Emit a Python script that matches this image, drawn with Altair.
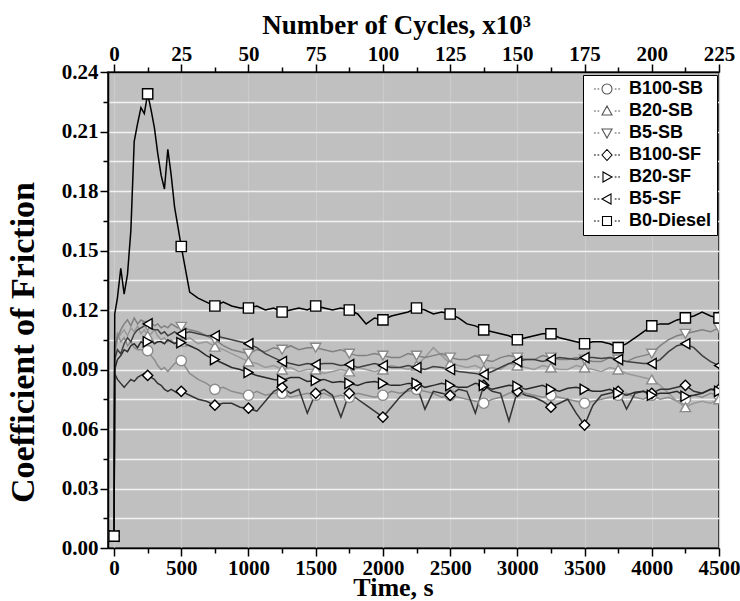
import altair as alt
import pandas as pd

# ---------------- data ----------------
T_EARLY = [0, 5, 25, 50, 75, 100, 125, 150, 175, 200, 225, 250, 275, 300, 325, 350, 375, 400, 425, 450, 475]
T_LATE = [500, 562.5, 625, 687.5, 750, 812.5, 875, 937.5,
          1000, 1062.5, 1125, 1187.5, 1250, 1312.5, 1375, 1437.5,
          1500, 1562.5, 1625, 1687.5, 1750, 1812.5, 1875, 1937.5,
          2000, 2062.5, 2125, 2187.5, 2250, 2312.5, 2375, 2437.5,
          2500, 2562.5, 2625, 2687.5, 2750, 2812.5, 2875, 2937.5,
          3000, 3062.5, 3125, 3187.5, 3250, 3312.5, 3375, 3437.5,
          3500, 3562.5, 3625, 3687.5, 3750, 3812.5, 3875, 3937.5,
          4000, 4062.5, 4125, 4187.5, 4250, 4312.5, 4375, 4437.5,
          4500]
T = T_EARLY + T_LATE

B100_SB = [0.006, 0.100, 0.108, 0.104, 0.106, 0.102, 0.104, 0.101, 0.100, 0.100, 0.099, 0.0995, 0.097, 0.095, 0.092, 0.090, 0.091, 0.089, 0.091, 0.093, 0.094,
           0.0945, 0.088, 0.085, 0.083, 0.080, 0.081, 0.079, 0.078,
           0.077, 0.079, 0.077, 0.078, 0.078, 0.076, 0.077, 0.078,
           0.077, 0.078, 0.076, 0.077, 0.076, 0.078, 0.077, 0.076,
           0.077, 0.079, 0.078, 0.079, 0.080, 0.079, 0.078, 0.076,
           0.077, 0.076, 0.075, 0.074, 0.073, 0.075, 0.076, 0.078,
           0.079, 0.078, 0.077, 0.076, 0.077, 0.076, 0.075, 0.074,
           0.073, 0.074, 0.075, 0.076, 0.077, 0.078, 0.076, 0.075,
           0.077, 0.075, 0.076, 0.074, 0.075, 0.077, 0.076, 0.078,
           0.077]
B20_SB = [0.006, 0.098, 0.105, 0.108, 0.110, 0.107, 0.111, 0.109, 0.112, 0.108, 0.110, 0.107, 0.108, 0.110, 0.107, 0.105, 0.106, 0.104, 0.105, 0.103, 0.104,
          0.104, 0.106, 0.103, 0.104, 0.1015, 0.100, 0.098, 0.096,
          0.094, 0.093, 0.091, 0.092, 0.090, 0.091, 0.089, 0.090,
          0.090, 0.088, 0.089, 0.090, 0.089, 0.091, 0.090, 0.089,
          0.090, 0.092, 0.091, 0.090, 0.092, 0.096, 0.101, 0.097,
          0.093, 0.092, 0.091, 0.092, 0.090, 0.091, 0.090, 0.093,
          0.092, 0.091, 0.090, 0.092, 0.091, 0.090, 0.090, 0.092,
          0.091, 0.090, 0.089, 0.091, 0.090, 0.088, 0.087, 0.086,
          0.085, 0.082, 0.078, 0.074, 0.071, 0.073, 0.074, 0.073,
          0.075]
B5_SB = [0.006, 0.100, 0.106, 0.110, 0.113, 0.115, 0.112, 0.116, 0.113, 0.115, 0.114, 0.112, 0.114, 0.112, 0.113, 0.111, 0.112, 0.111, 0.113, 0.112, 0.111,
         0.1115, 0.110, 0.109, 0.107, 0.105, 0.102, 0.100, 0.099,
         0.098, 0.100, 0.099, 0.101, 0.100, 0.102, 0.100, 0.101,
         0.101, 0.100, 0.099, 0.100, 0.098, 0.097, 0.097, 0.098,
         0.097, 0.096, 0.096, 0.098, 0.097, 0.096, 0.097, 0.098,
         0.096, 0.095, 0.095, 0.097, 0.095, 0.094, 0.096, 0.097,
         0.096, 0.095, 0.095, 0.097, 0.096, 0.095, 0.095, 0.096,
         0.095, 0.094, 0.094, 0.096, 0.095, 0.094, 0.096, 0.097,
         0.098, 0.102, 0.105, 0.107, 0.108, 0.109, 0.110, 0.109,
         0.111]
B100_SF = [0.006, 0.088, 0.085, 0.083, 0.081, 0.083, 0.085, 0.084, 0.086, 0.087, 0.088, 0.087, 0.086, 0.085, 0.083, 0.082, 0.080, 0.079, 0.080, 0.079, 0.078,
           0.079, 0.077, 0.075, 0.074, 0.072, 0.073, 0.073, 0.071,
           0.0705, 0.069, 0.074, 0.079, 0.081, 0.078, 0.080, 0.068,
           0.078, 0.080, 0.077, 0.066, 0.078, 0.075, 0.072, 0.069,
           0.066, 0.071, 0.076, 0.080, 0.082, 0.070, 0.079, 0.078,
           0.077, 0.080, 0.079, 0.068, 0.082, 0.079, 0.078, 0.064,
           0.079, 0.077, 0.076, 0.074, 0.071, 0.073, 0.075, 0.068,
           0.062, 0.072, 0.077, 0.078, 0.079, 0.070, 0.078, 0.079,
           0.078, 0.080, 0.080, 0.081, 0.082, 0.079, 0.078, 0.080,
           0.080]
B20_SF = [0.006, 0.090, 0.095, 0.097, 0.100, 0.099, 0.102, 0.103, 0.101, 0.104, 0.103, 0.104, 0.105, 0.103, 0.104, 0.104, 0.103, 0.105, 0.104, 0.103, 0.104,
          0.1035, 0.102, 0.100, 0.097, 0.095, 0.093, 0.091, 0.090,
          0.0885, 0.087, 0.086, 0.085, 0.0845, 0.086, 0.086, 0.084,
          0.0845, 0.085, 0.0835, 0.084, 0.083, 0.082, 0.0835, 0.084,
          0.083, 0.082, 0.082, 0.083, 0.083, 0.081, 0.082, 0.083,
          0.082, 0.081, 0.081, 0.083, 0.082, 0.080, 0.081, 0.082,
          0.0815, 0.080, 0.081, 0.082, 0.080, 0.079, 0.0805, 0.081,
          0.080, 0.079, 0.079, 0.080, 0.078, 0.077, 0.0785, 0.079,
          0.077, 0.078, 0.078, 0.079, 0.0765, 0.077, 0.078, 0.080,
          0.079]
B5_SF = [0.006, 0.095, 0.100, 0.098, 0.103, 0.106, 0.104, 0.108, 0.110, 0.111, 0.112, 0.113, 0.111, 0.110, 0.110, 0.108, 0.109, 0.107, 0.108, 0.109, 0.108,
         0.108, 0.109, 0.108, 0.107, 0.107, 0.106, 0.105, 0.104,
         0.103, 0.101, 0.098, 0.096, 0.094, 0.093, 0.092, 0.093,
         0.0925, 0.093, 0.093, 0.092, 0.0925, 0.091, 0.092, 0.093,
         0.092, 0.091, 0.091, 0.092, 0.091, 0.090, 0.0915, 0.091,
         0.090, 0.089, 0.0885, 0.088, 0.0875, 0.089, 0.091, 0.093,
         0.094, 0.095, 0.095, 0.094, 0.095, 0.096, 0.0955, 0.095,
         0.096, 0.096, 0.0955, 0.096, 0.095, 0.094, 0.0935, 0.093,
         0.093, 0.095, 0.099, 0.102, 0.103, 0.101, 0.097, 0.094,
         0.092]
B0_DIESEL = [0.006, 0.118, 0.126, 0.141, 0.128, 0.138, 0.160, 0.205, 0.214, 0.222, 0.219, 0.229, 0.221, 0.212, 0.199, 0.188, 0.181, 0.201, 0.188, 0.172, 0.162,
             0.152, 0.129, 0.126, 0.124, 0.122, 0.124, 0.122, 0.121,
             0.121, 0.122, 0.120, 0.121, 0.119, 0.120, 0.121, 0.120,
             0.122, 0.121, 0.120, 0.121, 0.120, 0.118, 0.113, 0.116,
             0.115, 0.117, 0.118, 0.119, 0.121, 0.120, 0.118, 0.119,
             0.118, 0.116, 0.113, 0.112, 0.110, 0.109, 0.108, 0.107,
             0.105, 0.106, 0.107, 0.108, 0.108, 0.106, 0.105, 0.104,
             0.103, 0.104, 0.104, 0.103, 0.101, 0.103, 0.106, 0.109,
             0.112, 0.113, 0.113, 0.115, 0.116, 0.117, 0.119, 0.117,
             0.116]

SERIES = ["B100-SB", "B20-SB", "B5-SB", "B100-SF", "B20-SF", "B5-SF", "B0-Diesel"]
VALUES = [B100_SB, B20_SB, B5_SB, B100_SF, B20_SF, B5_SF, B0_DIESEL]

X_TICKS = [0, 250, 500, 750, 1000, 1250, 1500, 1750, 2000, 2250, 2500, 2750, 3000, 3250, 3500, 3750, 4000, 4250, 4500]
Y_TICKS = [0, 0.015, 0.03, 0.045, 0.06, 0.075, 0.09, 0.105, 0.12, 0.135, 0.15, 0.165, 0.18, 0.195, 0.21, 0.225, 0.24]

# ---------------- styles ----------------
LINE_COLORS = ["#8c8c8c", "#999999", "#808080", "#333333", "#2a2a2a", "#404040", "#000000"]
LINE_WIDTHS = [1.5, 1.5, 1.5, 1.7, 1.7, 1.7, 1.6]
MARK_STROKES = ["#8a8a8a", "#8a8a8a", "#8a8a8a", "#000000", "#000000", "#000000", "#000000"]
SHAPES = ["circle", "triangle-up", "triangle-down", "diamond", "triangle-right", "triangle-left", "square"]
DOTS = " M-2.6,0h0.35 M-1.9,0h0.35 M1.55,0h0.35 M2.25,0h0.35"
LEGEND_PATHS = [
    "M1,0A1,1 0 1,1 -1,0A1,1 0 1,1 1,0Z" + DOTS,
    "M0,-1L1,0.8L-1,0.8Z" + DOTS,
    "M0,1L1,-0.8L-1,-0.8Z" + DOTS,
    "M0,-1.1L1,0L0,1.1L-1,0Z" + DOTS,
    "M1,0L-0.8,-1L-0.8,1Z" + DOTS,
    "M-1,0L0.8,-1L0.8,1Z" + DOTS,
    "M-0.9,-0.9H0.9V0.9H-0.9Z" + DOTS,
]
LEGEND_STROKES = ["#555555", "#555555", "#555555", "#000000", "#000000", "#000000", "#000000"]

rows = []
for name, vals in zip(SERIES, VALUES):
    for t, v in zip(T, vals):
        rows.append({"t": t, "v": v, "series": name})
df = pd.DataFrame(rows)
legend_df = pd.DataFrame({"name": SERIES})

SERIF = "Liberation Serif"
SANS = "Liberation Sans"

xscale = alt.Scale(domain=[-45, 4500], nice=False, zero=False)
yscale = alt.Scale(domain=[0, 0.24], nice=False, zero=False)

x_major = "datum.value % 500 === 0"
y_major = "abs(round(datum.value / 0.03) * 0.03 - datum.value) < 0.000001"

bottom_axis = alt.Axis(
    orient="bottom", values=X_TICKS, title="Time, s",
    labelExpr=f"{x_major} ? format(datum.value, 'd') : ''",
    labelFont=SERIF, labelFontWeight="bold", labelFontSize=21, labelColor="black",
    labelOverlap=False, labelPadding=1, labelFlush=False,
    tickSize={"condition": {"test": x_major, "value": 8}, "value": 5},
    tickColor="black", tickWidth=1.5,
    domainColor="black", domainWidth=1.5,
    grid=True, gridColor="#cbcbcb", gridWidth=1.2,
    gridOpacity={"condition": {"test": x_major, "value": 1}, "value": 0},
    titleFont=SERIF, titleFontWeight="bold", titleFontSize=26, titleColor="black",
    titlePadding=-4, titleX=285,
)
top_axis = alt.Axis(
    orient="top", values=X_TICKS, title="Number of Cycles, x10³",
    labelExpr=f"{x_major} ? format(datum.value / 20, 'd') : ''",
    labelFont=SERIF, labelFontWeight="bold", labelFontSize=21, labelColor="black",
    labelOverlap=False, labelPadding=0, labelFlush=False,
    tickSize={"condition": {"test": x_major, "value": 8}, "value": 5},
    tickColor="black", tickWidth=1.5,
    domainColor="black", domainWidth=1.5, grid=False,
    titleFont=SERIF, titleFontWeight="bold", titleFontSize=27, titleColor="black",
    titlePadding=4, titleX=288,
)
left_axis = alt.Axis(
    orient="left", values=Y_TICKS, title="Coefficient of Friction",
    labelExpr=f"{y_major} ? format(datum.value, '.2f') : ''",
    labelFont=SERIF, labelFontWeight="bold", labelFontSize=21, labelColor="black",
    labelOverlap=False, labelPadding=2, labelFlush=False,
    tickSize={"condition": {"test": y_major, "value": 8}, "value": 5},
    tickColor="black", tickWidth=1.5,
    domainColor="black", domainWidth=1.5,
    grid=True, gridColor="#f2f2f2", gridWidth=1.6,
    titleFont=SERIF, titleFontWeight="bold", titleFontSize=34, titleColor="black",
    titleX=-68, titleY=270, titleBaseline="bottom", titleAngle=270,
)

lines = alt.Chart(df).mark_line(clip=True).encode(
    x=alt.X("t:Q", scale=xscale, axis=bottom_axis),
    y=alt.Y("v:Q", scale=yscale, axis=left_axis),
    stroke=alt.Stroke("series:N", scale=alt.Scale(domain=SERIES, range=LINE_COLORS), legend=None),
    strokeWidth=alt.StrokeWidth("series:N", scale=alt.Scale(domain=SERIES, range=LINE_WIDTHS), legend=None),
    order=alt.Order("t:Q"),
)

markers = alt.Chart(df).transform_filter("datum.t % 250 === 0").mark_point(
    fill="white", fillOpacity=1, opacity=1, strokeWidth=1.4, size=105, clip=True
).encode(
    x=alt.X("t:Q", scale=xscale, axis=None),
    y=alt.Y("v:Q", scale=yscale, axis=None),
    shape=alt.Shape("series:N", scale=alt.Scale(domain=SERIES, range=SHAPES), legend=None),
    stroke=alt.Stroke("series:N", scale=alt.Scale(domain=SERIES, range=MARK_STROKES), legend=None),
)

top = alt.Chart(df).mark_point(opacity=0).encode(
    x=alt.X("t:Q", scale=xscale, axis=top_axis),
)

legend = alt.Legend(
    title=None, orient="none", legendX=475, legendY=3,
    fillColor="white", strokeColor="black", cornerRadius=0, padding=5,
    labelFont=SANS, labelFontWeight="bold", labelFontSize=18, labelColor="black",
    symbolSize=100, symbolStrokeWidth=1.1, symbolOffset=10, labelOffset=13,
    rowPadding=4, symbolFillColor="white",
)
leg = alt.Chart(legend_df).transform_filter("false").mark_point(
    fill="white", fillOpacity=1, opacity=1, strokeWidth=1.1, size=100
).encode(
    shape=alt.Shape("name:N", scale=alt.Scale(domain=SERIES, range=LEGEND_PATHS), legend=legend),
    stroke=alt.Stroke("name:N", scale=alt.Scale(domain=SERIES, range=LEGEND_STROKES), legend=legend),
)

chart = alt.layer(lines, markers, top, leg).resolve_scale(
    shape="independent", stroke="independent"
).resolve_axis(x="independent", y="independent").properties(
    width=611, height=476,
    padding={"left": 108, "top": 72, "right": 21, "bottom": 53},
    autosize=alt.AutoSizeParams(type="none"),
    background="white",
    view=alt.ViewBackground(fill="#c0c0c0", stroke="black", strokeWidth=1.5),
)

chart.save("out.html", embed_options={"renderer": "svg", "actions": False})
